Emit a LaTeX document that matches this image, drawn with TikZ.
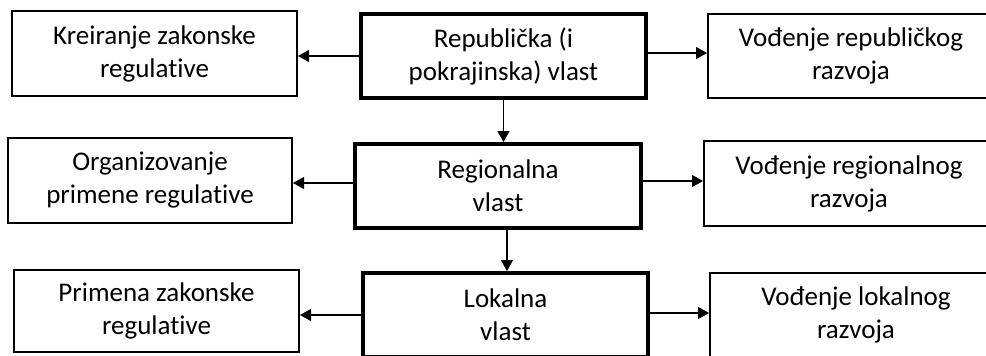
\documentclass[tikz,border=0pt]{standalone}
\usepackage{fontspec}
\setmainfont[Ligatures=NoCommon]{Carlito}
\usetikzlibrary{arrows.meta}
\tikzset{
  thinbox/.style={draw=black, line width=2pt, inner sep=0pt, align=center,
    font=\fontsize{27}{33}\selectfont},
  thickbox/.style={draw=black, line width=4pt, inner sep=0pt, align=center,
    font=\fontsize{27}{33}\selectfont},
  arr/.style={line width=1.2pt, -{Triangle[length=11pt,width=12pt]}}
}
\begin{document}
\begin{tikzpicture}[x=1pt,y=-1pt]
\useasboundingbox (0,0) rectangle (986,356);
\clip (0,0) rectangle (986,356);
% top row
\node[thinbox, minimum width=285pt, minimum height=85pt] (tl) at (154.5,53.5) {Kreiranje zakonske\\regulative};
\node[thickbox, minimum width=285pt, minimum height=84pt] (tc) at (503.5,56) {Republička (i\\pokrajinska) vlast};
\node[thinbox, minimum width=286pt, minimum height=84pt] (tr) at (851,56) {Vođenje republičkog\\razvoja};
% middle row
\node[thinbox, minimum width=284pt, minimum height=85pt] (ml) at (150,180.5) {Organizovanje\\primene regulative};
\node[thickbox, minimum width=286pt, minimum height=84pt] (mc) at (498,186) {Regionalna\\vlast};
\node[thinbox, minimum width=290pt, minimum height=85pt] (mr) at (849,183.5) {Vođenje regionalnog\\razvoja};
% bottom row
\node[thinbox, minimum width=285pt, minimum height=82pt] (bl) at (156.5,311) {Primena zakonske\\regulative};
\node[thickbox, minimum width=285pt, minimum height=84pt] (bc) at (505.5,315) {Lokalna\\vlast};
\node[thinbox, minimum width=292pt, minimum height=84pt] (br) at (856,315) {Vođenje lokalnog\\razvoja};
% arrows
\draw[arr] (tc.west) -- (tc.west -| tl.east);
\draw[arr] ([yshift=3pt]tc.east) -- ([yshift=3pt]tc.east -| tr.west);
\draw[arr] (tc.south) -- (tc.south |- mc.north);
\draw[arr] ([yshift=3pt]mc.west) -- ([yshift=3pt]mc.west -| ml.east);
\draw[arr] ([yshift=5pt]mc.east) -- ([yshift=5pt]mc.east -| mr.west);
\draw[arr] ([xshift=9pt]mc.south) -- ([xshift=9pt]mc.south |- bc.north);
\draw[arr] (bc.west) -- (bc.west -| bl.east);
\draw[arr] ([yshift=2pt]bc.east) -- ([yshift=2pt]bc.east -| br.west);
\end{tikzpicture}
\end{document}
